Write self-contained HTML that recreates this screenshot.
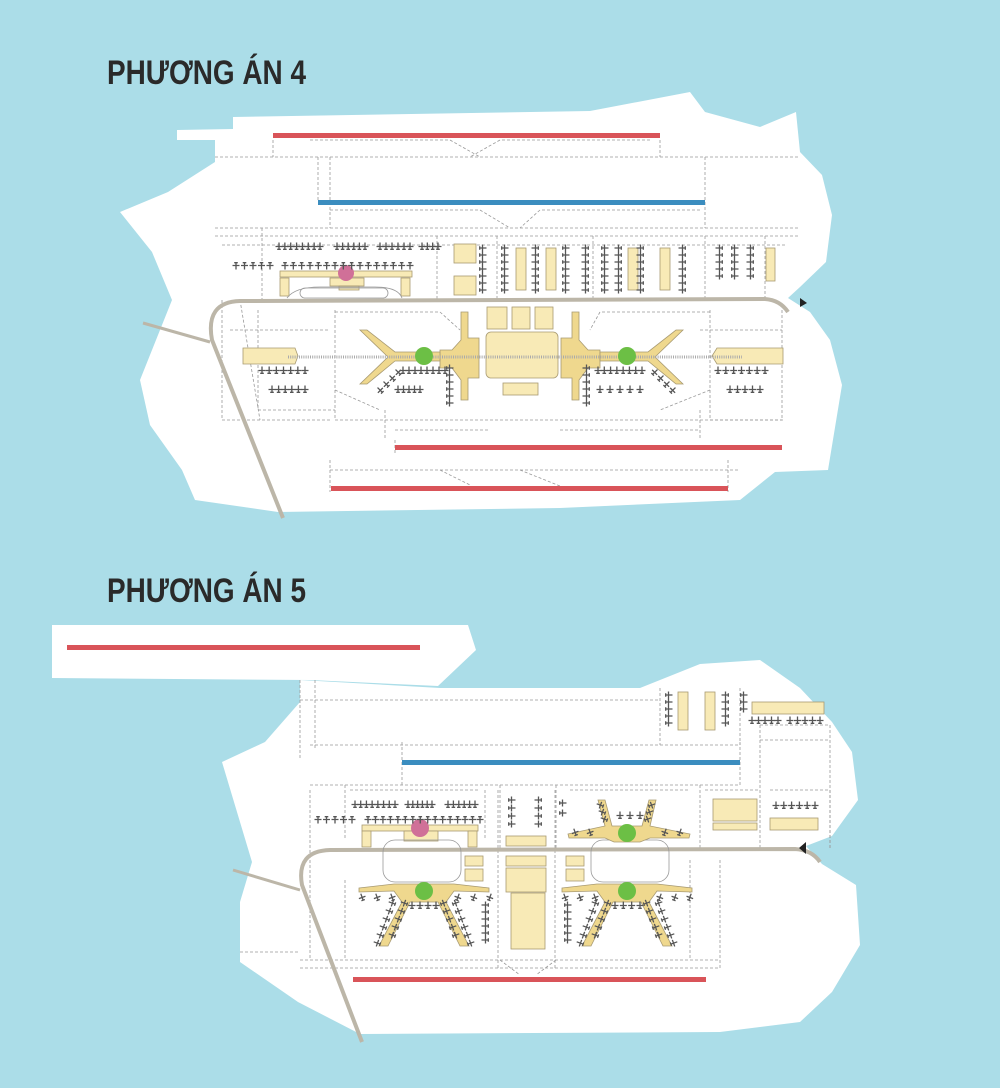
<!DOCTYPE html>
<html><head><meta charset="utf-8"><style>
html,body{margin:0;padding:0;background:#abdde8;}
svg{display:block}
.t{font-family:"Liberation Sans Narrow","Liberation Sans",sans-serif;font-weight:bold;font-size:34px;fill:#2a2a2a}
.d{fill:none;stroke:#999;stroke-width:0.8;stroke-dasharray:3 2}
.y{fill:#f8eab6;stroke:#a89a72;stroke-width:0.8}
.yd{fill:#efd88e;stroke:#a89a72;stroke-width:0.8}
</style></head><body>
<svg id="s" width="1000" height="1088" viewBox="0 0 1000 1088" xmlns="http://www.w3.org/2000/svg">
<defs>
<g id="p"><path d="M0,-3.5V3.5M-3.5,0.5H3.5M-1.8,3.3H1.8" stroke="#555" stroke-width="1.3" fill="none"/></g>
</defs>
<rect width="1000" height="1088" fill="#abdde8"/>
<text class="t" x="107" y="84" textLength="199" lengthAdjust="spacingAndGlyphs">PHƯƠNG ÁN 4</text>
<text class="t" x="107" y="602" textLength="199" lengthAdjust="spacingAndGlyphs">PHƯƠNG ÁN 5</text>

<path fill="#fff" d="M177,130 L233,129 L233,117 L590,111 L690,92 L705,112 L760,127 L796,112 L800,152 L822,175 L832,215 L826,262 L800,287 L788,298 L810,312 L830,340 L842,385 L828,470 L775,472 L740,500 L560,508 L278,512 L195,500 L182,470 L150,425 L140,380 L172,300 L152,252 L120,212 L168,192 L215,162 L215,140 L177,140 Z"/>
<path fill="#fff" d="M52,625 L468,625 L476,650 L438,686 L310,680 L52,678 Z"/>
<path fill="#fff" d="M300,680 L440,688 L640,688 L700,664 L760,660 L800,688 L832,722 L852,752 L858,800 L832,836 L806,846 L822,864 L856,885 L860,945 L832,992 L800,1022 L720,1032 L360,1034 L298,1002 L240,962 L240,902 L252,862 L222,762 L265,742 L300,702 Z"/>

<g id="dash"></g>

<rect x="273" y="133" width="387" height="5" fill="#d95459"/>
<rect x="318" y="200" width="387" height="5" fill="#3b8dbf"/>
<rect x="395" y="445" width="387" height="5" fill="#d95459"/>
<rect x="331" y="486" width="397" height="5" fill="#d95459"/>
<path d="M283,518 L212,340 Q205,302 240,301 L765,299 Q780,300 788,312" fill="none" stroke="#bcb6a8" stroke-width="4"/>
<path d="M143,323 L210,342" fill="none" stroke="#bcb6a8" stroke-width="3"/>
<path d="M800,298 L807,303 L800,307 Z" fill="#222"/>

<rect class="y" x="280" y="271" width="132" height="6"/>
<rect class="y" x="280" y="278" width="9" height="18"/>
<rect class="y" x="401" y="278" width="9" height="18"/>
<rect class="y" x="330" y="278" width="34" height="8"/>
<rect class="y" x="339" y="286" width="20" height="4"/>
<path d="M287,298 Q295,287 320,287 L375,287 Q398,287 402,298" fill="none" stroke="#999" stroke-width="0.8"/>
<rect x="300" y="288" width="88" height="10" rx="5" fill="none" stroke="#999" stroke-width="0.8"/>
<rect class="y" x="454" y="244" width="22" height="19"/>
<rect class="y" x="454" y="276" width="22" height="19"/>
<rect class="y" x="516" y="248" width="10" height="42"/>
<rect class="y" x="546" y="248" width="10" height="42"/>
<rect class="y" x="628" y="248" width="10" height="42"/>
<rect class="y" x="660" y="248" width="10" height="42"/>
<rect class="y" x="766" y="248" width="9" height="33"/>
<rect class="y" x="487" y="307" width="20" height="22"/>
<rect class="y" x="512" y="307" width="18" height="22"/>
<rect class="y" x="535" y="307" width="18" height="22"/>
<rect class="y" x="486" y="332" width="72" height="46" rx="5"/>
<rect class="y" x="503" y="383" width="35" height="12"/>
<path class="yd" d="M461,312 H468 V338 H479 V378 H468 V400 H461 V380 L452,368 H440 V350 H452 L461,340 Z"/>
<path class="yd" d="M579,312 H572 V338 H561 V378 H572 V400 H579 V380 L588,368 H600 V350 H588 L579,340 Z"/>
<path class="y" d="M243,348 H295 L298,356 L295,364 H243 Z"/>
<path class="y" d="M783,348 H717 L712,356 L717,364 H783 Z"/>
<path class="yd" d="M360,330 L367,330 L395,352 L440,352 L440,361 L395,361 L367,384 L360,384 L388,357 Z"/>
<path class="yd" d="M683,330 L676,330 L648,352 L600,352 L600,361 L648,361 L676,384 L683,384 L655,357 Z"/>
<line x1="288" y1="357" x2="742" y2="357" stroke="#aaa" stroke-width="3" stroke-dasharray="1 1.2"/>
<circle cx="424" cy="356" r="9" fill="#6cbf45"/>
<circle cx="627" cy="356" r="9" fill="#6cbf45"/>
<circle cx="346" cy="273" r="8" fill="#d07098"/>

<rect x="67" y="645" width="353" height="5" fill="#d95459"/>
<rect x="402" y="760" width="338" height="5" fill="#3b8dbf"/>
<rect x="353" y="977" width="353" height="5" fill="#d95459"/>
<path d="M362,1042 L302,885 Q296,851 330,850 L795,849 Q812,850 820,862" fill="none" stroke="#bcb6a8" stroke-width="4"/>
<path d="M233,870 L300,890" fill="none" stroke="#bcb6a8" stroke-width="3"/>
<path d="M806,842 L799,848 L806,854 Z" fill="#222"/>

<rect class="y" x="362" y="825" width="116" height="6"/>
<rect class="y" x="362" y="831" width="9" height="16"/>
<rect class="y" x="468" y="831" width="9" height="16"/>
<rect class="y" x="404" y="831" width="34" height="10"/>
<rect x="383" y="840" width="78" height="42" rx="12" fill="none" stroke="#999" stroke-width="0.8"/>
<rect x="591" y="840" width="78" height="42" rx="12" fill="none" stroke="#999" stroke-width="0.8"/>
<rect class="y" x="506" y="836" width="40" height="10"/>
<rect class="y" x="506" y="856" width="40" height="10"/>
<rect class="y" x="506" y="868" width="40" height="24"/>
<rect class="y" x="511" y="893" width="34" height="56"/>
<rect class="y" x="465" y="856" width="18" height="10"/>
<rect class="y" x="465" y="869" width="18" height="12"/>
<rect class="y" x="566" y="856" width="18" height="10"/>
<rect class="y" x="566" y="869" width="18" height="12"/>
<rect class="y" x="713" y="799" width="44" height="22"/>
<rect class="y" x="713" y="823" width="44" height="7"/>
<rect class="y" x="770" y="818" width="48" height="12"/>
<rect class="y" x="752" y="702" width="72" height="12"/>
<rect class="y" x="678" y="692" width="10" height="38"/>
<rect class="y" x="705" y="692" width="10" height="38"/>

<g id="piers"></g>
<circle cx="420" cy="828" r="9" fill="#d07098"/>
<circle cx="627" cy="833" r="9" fill="#6cbf45"/>
<circle cx="424" cy="891" r="9" fill="#6cbf45"/>
<circle cx="627" cy="891" r="9" fill="#6cbf45"/>
<g id="planes"></g>
</svg>
<script>
var NS="http://www.w3.org/2000/svg";
function el(parent,tag,a){var e=document.createElementNS(NS,tag);for(var k in a)e.setAttribute(k,a[k]);document.getElementById(parent).appendChild(e);return e;}
var D=[
"M215,157H800","M215,228H800","M215,236H800","M222,245H785","M222,300V420H332","M262,228V300","M330,157V228","M318,157V200","M705,157V228","M273,140V157","M660,140V157",
"M310,140L450,140L480,157","M650,140L500,140L470,157","M330,210L480,210L510,228","M700,210L540,210L520,228",
"M437,236V300","M497,236V300","M593,236V300","M705,236V300","M765,236V300","M240,300L260,420","M258,310V410H335","M335,310V420","M782,310V420","M710,310V420H782",
"M335,420H785","M385,410V440","M395,440V455","M700,410V440","M330,470H740","M330,460V492","M728,460V492","M395,430L490,430","M560,430L700,430",
"M440,470L470,485","M520,470L560,486","M335,312H440L460,330","M710,312H600L590,330","M230,330H330","M700,330H782","M335,390L380,410","M710,390L660,410",
"M300,680V760","M315,680V750","M300,700H660","M310,745H740","M310,785H740","M402,742V785","M740,742V785","M660,688V745","M740,688V745","M760,725H830","M760,740H830","M760,725V850","M830,725V850",
"M310,790V840","M310,840V960","M345,785V840","M485,790V840","M498,790V970","M555,790V970","M500,785V850","M556,785V850","M700,785V850","M705,790H760","M770,790H830V850",
"M300,960H720","M300,968H720","M345,880V960","M500,960L520,975","M556,960L536,975","M720,860V970","M690,860V960","M240,952H300","M350,790H480","M570,790H690"
];
D.forEach(function(d){el("dash","path",{d:d,"class":"d"});});
function pier(cx,top){
 var d="M"+(cx-65)+","+(top)+" L"+(cx-30)+","+(top-4)+" L"+(cx+30)+","+(top-4)+" L"+(cx+65)+","+top+" L"+(cx+65)+","+(top+4)+" L"+(cx+30)+","+(top+3)+
 " L"+(cx+22)+","+(top+14)+" L"+(cx+45)+","+(top+58)+" L"+(cx+36)+","+(top+58)+" L"+(cx+14)+","+(top+14)+" L"+(cx-14)+","+(top+14)+
 " L"+(cx-36)+","+(top+58)+" L"+(cx-45)+","+(top+58)+" L"+(cx-22)+","+(top+14)+" L"+(cx-30)+","+(top+3)+" L"+(cx-65)+","+(top+4)+" Z";
 el("piers","path",{d:d,"class":"yd"});
}
pier(424,888); pier(627,888);
el("piers","path",{"class":"yd",d:"M568,834 L605,826 L598,800 L605,800 L612,826 L642,826 L649,800 L656,800 L650,826 L690,834 L689,838 L650,838 L640,842 L614,842 L605,838 L569,838 Z"});
function pl(x,y,rot){el("planes","use",{href:"#p",transform:"translate("+x+","+y+") rotate("+rot+")"});}
function row(x1,x2,y,n,rot){for(var i=0;i<n;i++){var x=n>1?x1+(x2-x1)*i/(n-1):x1;pl(x,y,rot);}}
function col(x,y0,n,rot,st){st=st||7;for(var i=0;i<n;i++)pl(x,y0+i*st,rot);}
function diag(x0,y0,dx,dy,n,rot){for(var i=0;i<n;i++)pl(x0+i*dx,y0+i*dy,rot);}
// plan4
row(279,320,246,8,0);row(337,365,246,6,0);row(380,410,246,6,0);row(422,438,246,4,0);
row(236,270,266,5,180);row(285,410,266,16,180);
col(483,248,7,90);col(505,248,7,90);col(535,248,7,-90);col(566,248,7,90);
col(585,248,7,-90);col(605,248,7,90);col(618,248,7,-90);col(640,248,7,-90);col(682,248,7,-90);
col(719,248,5,-90);col(735,248,5,90);col(750,248,5,-90);
row(262,305,370,7,0);row(272,305,389,6,0);row(398,420,389,5,0);row(600,640,389,5,0);row(730,760,389,5,0);row(718,765,370,7,0);
row(403,445,370,8,0);row(598,642,370,8,0);col(450,368,6,90);col(586,368,6,-90);
diag(398,372,-6,6,4,-45);diag(655,372,6,6,4,45);
// plan5
row(355,395,804,8,0);row(408,432,804,6,0);row(448,475,804,6,0);
row(318,352,820,5,180);row(368,480,820,16,180);
col(512,800,4,90,8);col(538,800,4,-90,8);
row(362,392,897,3,-20);row(458,490,897,3,20);row(565,595,897,3,-20);row(660,690,897,3,20);
diag(392,903,-3,8,6,-70);diag(404,903,-3,8,5,-70);diag(444,903,3,8,5,70);diag(456,903,3,8,6,70);
diag(595,903,-3,8,6,-70);diag(607,903,-3,8,5,-70);diag(647,903,3,8,5,70);diag(659,903,3,8,6,70);
col(485,905,6,-90);col(568,905,6,90);
row(412,436,905,4,0);row(615,640,905,4,0);
diag(600,805,2,7,3,-70);diag(652,805,-2,7,3,70);row(575,590,832,2,-20);row(665,680,832,2,20);
row(620,640,815,3,0);col(563,803,2,90,10);
col(669,695,5,90);col(725,695,5,-90);col(744,695,3,90);
row(752,778,720,5,0);row(790,820,720,5,0);row(776,815,805,6,0);
</script>
</body></html>
